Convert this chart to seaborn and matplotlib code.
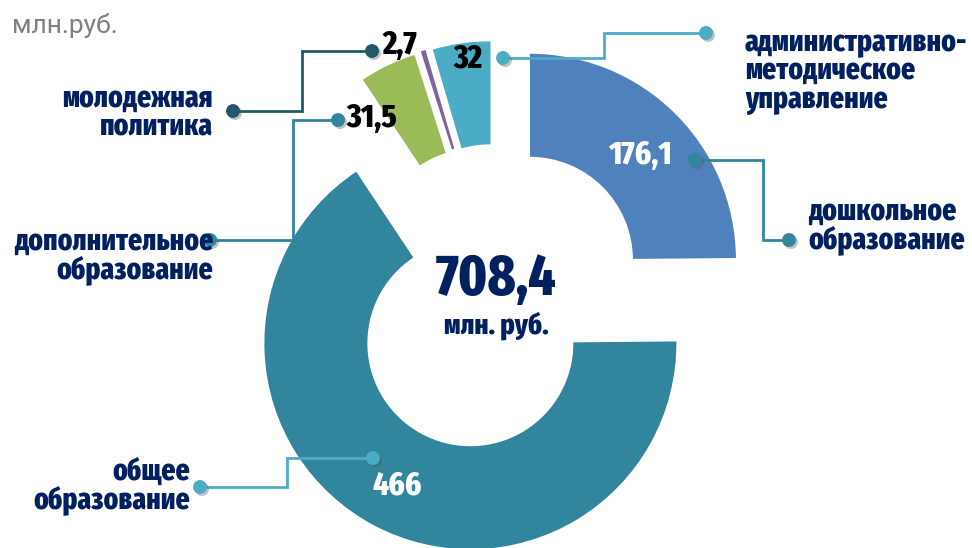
import matplotlib
matplotlib.use('Agg')
import matplotlib.pyplot as plt
import matplotlib.patheffects as pe
import seaborn as sns

sns.set_theme(style='white')
plt.rcParams['font.family'] = ['Fira Sans Extra Condensed', 'Roboto Condensed', 'DejaVu Sans']

# данные (млн. руб.)
categories = ['дошкольное\nобразование', 'общее\nобразование', 'дополнительное\nобразование',
              'молодежная\nполитика', 'административно-\nметодическое\nуправление']
values = [176.1, 466, 31.5, 2.7, 32]
value_labels = ['176,1', '466', '31,5', '2,7', '32']
total_label = '708,4'

colors = ['#4F81BD', '#31859C', '#9BBB59', '#8064A2', '#4BACC6']
explode = [0.227, 0.276, 0.225, 0.23, 0.224]

W, H = 972, 548
R = 206.0           # радиус в пикселях
CX, CY = 497, 293   # центр кольца (пиксели, сверху)

fig = plt.figure(figsize=(W / 100, H / 100), dpi=100)
ax = fig.add_axes([0, 0, 1, 1])
ax.pie(values, colors=colors, explode=explode, startangle=90, counterclock=False,
       radius=1, wedgeprops=dict(width=0.5, edgecolor='none'))
ax.set_xlim(-CX / R, (W - CX) / R)
ax.set_ylim(-(H - CY) / R, CY / R)
ax.set_aspect('auto')
ax.axis('off')

# слой подписей в пиксельных координатах
ann = fig.add_axes([0, 0, 1, 1])
ann.set_xlim(0, W)
ann.set_ylim(H, 0)
ann.axis('off')
ann.patch.set_alpha(0)

navy = '#002060'
label_kw = dict(fontsize=21.5, fontweight=800, color=navy, linespacing=0.93)
shadow = [pe.SimplePatchShadow(offset=(1.5, -1.5), shadow_rgbFace='#555555', alpha=0.35), pe.Normal()]

# выноски: (точки ломаной), цвет
leaders = [
    ([(695, 160), (763, 160), (763, 240), (789, 240)], '#31859C'),
    ([(373, 458), (287, 458), (287, 487), (200, 487)], '#4BACC6'),
    ([(338, 120), (293, 120), (293, 240), (210, 240)], '#31859C'),
    ([(372, 51), (302, 51), (302, 111), (233, 111)], '#215968'),
    ([(503, 58), (604, 58), (604, 33), (706, 33)], '#4BACC6'),
]
for pts, c in leaders:
    xs = [p[0] for p in pts]
    ys = [p[1] for p in pts]
    ann.plot(xs, ys, color=c, lw=2, solid_joinstyle='miter')
    ann.plot([xs[0], xs[-1]], [ys[0], ys[-1]], 'o', color=c, ms=10, mec='none',
             path_effects=shadow)

# названия категорий
cat_pos = [(808, 226, 'left'), (190, 486, 'right'), (213, 256, 'right'),
           (213, 113, 'right'), (745, 71, 'left')]
for name, (x, y, ha) in zip(categories, cat_pos):
    ann.text(x, y, name, ha=ha, va='center', **label_kw)

# значения
val_pos = [(640, 155, 'white'), (397, 486, 'white'), (372, 118, 'black'),
           (400, 45, 'black'), (468, 59, 'black')]
for lab, (x, y, c) in zip(value_labels, val_pos):
    ann.text(x, y, lab, ha='center', va='center', fontsize=24, fontweight=800, color=c)

# итог в центре
ann.text(496, 279, total_label, ha='center', va='center', fontsize=41,
         fontweight=800, color=navy)
ann.text(496, 326, 'млн. руб.', ha='center', va='center', fontsize=21,
         fontweight=800, color=navy)

ann.text(12, 26, 'млн.руб.', ha='left', va='center', fontsize=19, color='#7F7F7F',
         family=['Roboto', 'DejaVu Sans'])

fig.savefig('out.png', dpi=100)
